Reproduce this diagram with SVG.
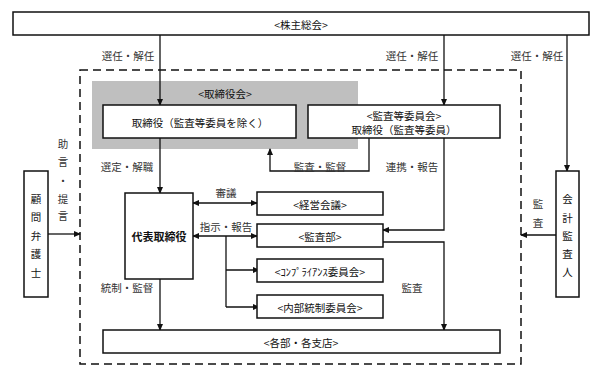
<svg xmlns="http://www.w3.org/2000/svg" width="600" height="374" viewBox="0 0 600 374">
<style>
text{font-family:"Noto Sans CJK JP","Noto Sans",sans-serif;font-size:10.5px;fill:#111;text-anchor:middle;dominant-baseline:central}
.box{fill:#fff;stroke:#111;stroke-width:1.5}
.lab{fill:#333}
.c{fill:none;stroke:#111;stroke-width:1.3}
.b{font-weight:bold;font-size:11px}
</style>
<defs>
<marker id="a" markerUnits="userSpaceOnUse" markerWidth="7" markerHeight="6" refX="6" refY="3" orient="auto-start-reverse"><path d="M0,0 L7,3 L0,6 Z" fill="#111"/></marker>
</defs>
<rect x="0" y="0" width="600" height="374" fill="#fff"/>
<g id="board-area">
<rect x="92" y="81" width="266" height="68" fill="#bfbfbf"/>
<text x="225" y="93">&lt;取締役会&gt;</text>
</g>
<rect id="group-border" x="80" y="70" width="441" height="294" fill="none" stroke="#111" stroke-width="1.5" stroke-dasharray="8,5"/>
<g id="connectors">
<path class="c" d="M160,35 V105" marker-end="url(#a)"/>
<path class="c" d="M444,35 V105" marker-end="url(#a)"/>
<path class="c" d="M567,35 V171" marker-end="url(#a)"/>
<path class="c" d="M160,138 V193" marker-end="url(#a)"/>
<path class="c" d="M160,279 V330" marker-end="url(#a)"/>
<path class="c" d="M193,203 H257" marker-start="url(#a)" marker-end="url(#a)"/>
<path class="c" d="M193,236 H257" marker-start="url(#a)" marker-end="url(#a)"/>
<path class="c" d="M226,236 V307"/>
<path class="c" d="M226,270 H259" marker-end="url(#a)"/>
<path class="c" d="M226,307 H259" marker-end="url(#a)"/>
<path class="c" d="M444,138 V230 H383" marker-end="url(#a)"/>
<path class="c" d="M383,242 H444 V330" marker-end="url(#a)"/>
<path class="c" d="M369,138 V171 H270 V149" marker-end="url(#a)"/>
<path class="c" d="M48,234 H80" marker-end="url(#a)"/>
<path class="c" d="M556,235 H521" marker-end="url(#a)"/>
<text class="lab" x="128" y="55">選任・解任</text>
<text class="lab" x="412" y="55">選任・解任</text>
<text class="lab" x="537" y="55">選任・解任</text>
<text class="lab" x="127" y="166">選定・解職</text>
<text class="lab" x="127" y="287">統制・監督</text>
<text class="lab" x="226" y="192">審議</text>
<text class="lab" x="226" y="226">指示・報告</text>
<text class="lab" x="412" y="166">連携・報告</text>
<text class="lab" x="320" y="166">監査・監督</text>
<text class="lab" x="412" y="287">監査</text>
<text class="lab"><tspan x="63" y="143">助</tspan><tspan x="63" y="161">言</tspan><tspan x="63" y="180">・</tspan><tspan x="63" y="198">提</tspan><tspan x="63" y="215">言</tspan></text>
<text class="lab"><tspan x="538" y="203">監</tspan><tspan x="538" y="222">査</tspan></text>
</g>
<g id="shareholders"><rect class="box" x="13" y="12" width="576" height="23"/><text x="301" y="24">&lt;株主総会&gt;</text></g>
<g id="directors"><rect class="box" x="103" y="105" width="193" height="33"/><text x="200" y="122">取締役（監査等委員を除く）</text></g>
<g id="audit-committee"><rect class="box" x="308" y="105" width="192" height="33"/><text x="404" y="115">&lt;監査等委員会&gt;</text><text x="404" y="129">取締役（監査等委員）</text></g>
<g id="ceo"><rect class="box" x="125" y="193" width="68" height="86"/><text class="b" x="159" y="236">代表取締役</text></g>
<g id="mgmt-meeting"><rect class="box" x="257" y="192" width="126" height="23"/><text x="320" y="204">&lt;経営会議&gt;</text></g>
<g id="audit-dept"><rect class="box" x="257" y="224" width="126" height="23"/><text x="320" y="236">&lt;監査部&gt;</text></g>
<g id="compliance"><rect class="box" x="257" y="259" width="126" height="23"/><text x="320" y="271">&lt;ｺﾝﾌﾟﾗｲｱﾝｽ委員会&gt;</text></g>
<g id="internal-control"><rect class="box" x="257" y="295" width="126" height="23"/><text x="320" y="307">&lt;内部統制委員会&gt;</text></g>
<g id="branches"><rect class="box" x="103" y="330" width="397" height="23"/><text x="301" y="342">&lt;各部・各支店&gt;</text></g>
<g id="lawyer"><rect class="box" x="24" y="171" width="24" height="126"/><text><tspan x="36" y="198">顧</tspan><tspan x="36" y="216">問</tspan><tspan x="36" y="235">弁</tspan><tspan x="36" y="253">護</tspan><tspan x="36" y="272">士</tspan></text></g>
<g id="auditor"><rect class="box" x="556" y="171" width="23" height="126"/><text><tspan x="567.5" y="198">会</tspan><tspan x="567.5" y="217">計</tspan><tspan x="567.5" y="235">監</tspan><tspan x="567.5" y="253">査</tspan><tspan x="567.5" y="271">人</tspan></text></g>
</svg>
